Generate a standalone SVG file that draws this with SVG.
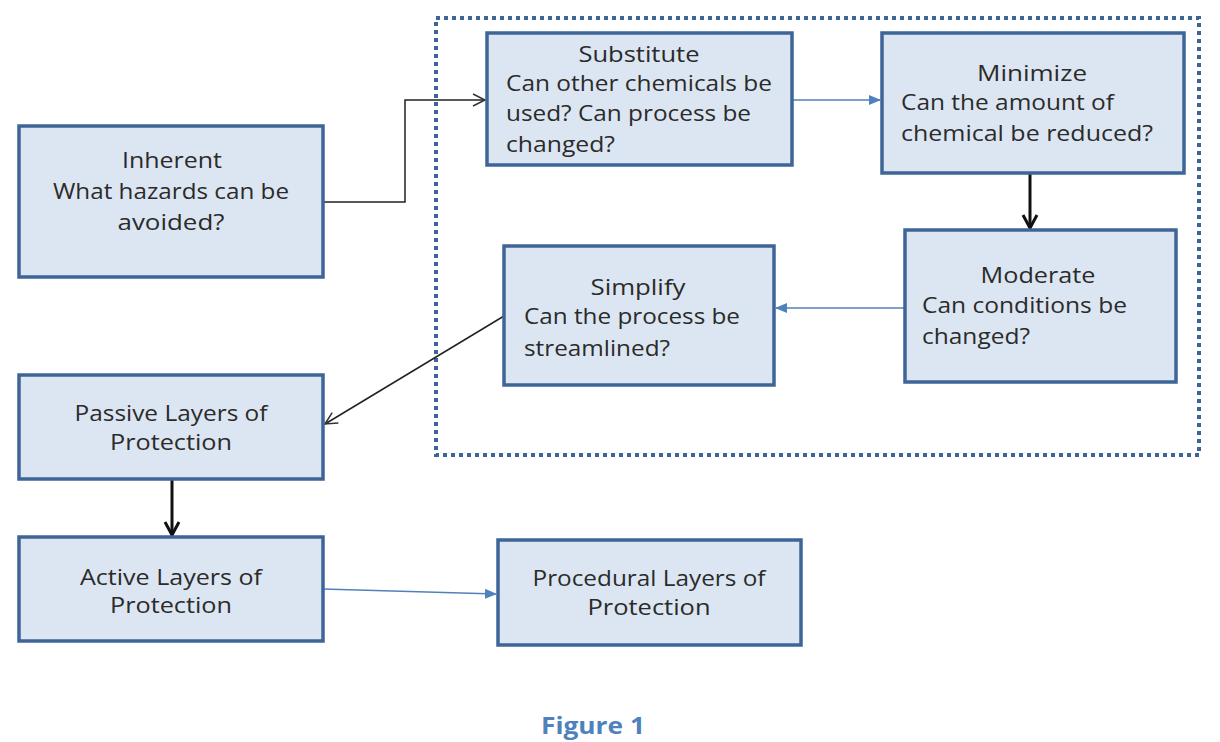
<svg xmlns="http://www.w3.org/2000/svg" width="1220" height="742" viewBox="0 0 1220 742">
<style>
.box{fill:#dce6f2;stroke:#3e6597;stroke-width:3.5}
text{font-family:"Open Sans","Liberation Sans",sans-serif;font-size:21px;fill:#2b2b2b}
.c{text-anchor:middle}
.blue{stroke:#4f81bd;stroke-width:1.5;fill:none}
.thin{stroke:#222;stroke-width:1.5;fill:none}
.thick{stroke:#111;stroke-width:3;fill:none}
</style>
<defs>
<marker id="ab" markerWidth="12" markerHeight="12" refX="11" refY="6" orient="auto" markerUnits="userSpaceOnUse"><path d="M0,1 L12,6 L0,11 z" fill="#4f81bd"/></marker>
<marker id="ao" markerWidth="16" markerHeight="16" refX="14" refY="8" orient="auto" markerUnits="userSpaceOnUse"><path d="M2,2 L14,8 L2,14" fill="none" stroke="#333" stroke-width="1.5"/></marker>
<marker id="at" markerWidth="18" markerHeight="18" refX="15" refY="9" orient="auto" markerUnits="userSpaceOnUse"><path d="M2,2 L15,9 L2,16" fill="none" stroke="#111" stroke-width="3"/></marker>
</defs>
<rect width="1220" height="742" fill="#fff"/>
<rect x="436" y="18" width="763" height="437" fill="none" stroke="#3e6597" stroke-width="4" stroke-dasharray="4 4"/>
<g id="connectors">
<path class="thin" d="M323,202 H405 V100 H485" marker-end="url(#ao)"/>
<path class="blue" d="M792,100 H880" marker-end="url(#ab)"/>
<path class="thick" d="M1030,173 V228" marker-end="url(#at)"/>
<path class="blue" d="M905,308 H776" marker-end="url(#ab)"/>
<path class="thin" d="M504,316 L325,424" marker-end="url(#ao)"/>
<path class="thick" d="M172,479 V535" marker-end="url(#at)"/>
<path class="blue" d="M323,589 L496,594" marker-end="url(#ab)"/>
</g>
<g id="inherent"><rect class="box" x="19" y="126" width="304" height="151"/>
<text class="c" x="172" y="168" textLength="100" lengthAdjust="spacingAndGlyphs">Inherent</text><text class="c" x="171" y="199" textLength="236" lengthAdjust="spacingAndGlyphs">What hazards can be</text><text class="c" x="171" y="230" textLength="107" lengthAdjust="spacingAndGlyphs">avoided?</text></g>
<g id="substitute"><rect class="box" x="487" y="33" width="305" height="132"/>
<text class="c" x="639" y="62" textLength="121" lengthAdjust="spacingAndGlyphs">Substitute</text><text x="506" y="91" textLength="266" lengthAdjust="spacingAndGlyphs">Can other chemicals be</text><text x="506" y="121" textLength="245" lengthAdjust="spacingAndGlyphs">used? Can process be</text><text x="506" y="152" textLength="109" lengthAdjust="spacingAndGlyphs">changed?</text></g>
<g id="minimize"><rect class="box" x="882" y="33" width="302" height="140"/>
<text class="c" x="1032" y="81" textLength="110" lengthAdjust="spacingAndGlyphs">Minimize</text><text x="901" y="110" textLength="213" lengthAdjust="spacingAndGlyphs">Can the amount of</text><text x="901" y="141" textLength="252" lengthAdjust="spacingAndGlyphs">chemical be reduced?</text></g>
<g id="moderate"><rect class="box" x="905" y="230" width="271" height="152"/>
<text class="c" x="1038" y="283" textLength="115" lengthAdjust="spacingAndGlyphs">Moderate</text><text x="922" y="313" textLength="205" lengthAdjust="spacingAndGlyphs">Can conditions be</text><text x="922" y="344" textLength="108" lengthAdjust="spacingAndGlyphs">changed?</text></g>
<g id="simplify"><rect class="box" x="504" y="246" width="270" height="139"/>
<text class="c" x="638" y="295" textLength="95" lengthAdjust="spacingAndGlyphs">Simplify</text><text x="524" y="324" textLength="216" lengthAdjust="spacingAndGlyphs">Can the process be</text><text x="524" y="356" textLength="146" lengthAdjust="spacingAndGlyphs">streamlined?</text></g>
<g id="passive"><rect class="box" x="19" y="375" width="304" height="104"/>
<text class="c" x="171" y="421" textLength="193" lengthAdjust="spacingAndGlyphs">Passive Layers of</text><text class="c" x="171" y="450" textLength="122" lengthAdjust="spacingAndGlyphs">Protection</text></g>
<g id="active"><rect class="box" x="19" y="537" width="304" height="104"/>
<text class="c" x="171" y="585" textLength="182" lengthAdjust="spacingAndGlyphs">Active Layers of</text><text class="c" x="171" y="613" textLength="122" lengthAdjust="spacingAndGlyphs">Protection</text></g>
<g id="procedural"><rect class="box" x="498" y="540" width="303" height="105"/>
<text class="c" x="649" y="586" textLength="233" lengthAdjust="spacingAndGlyphs">Procedural Layers of</text><text class="c" x="649" y="615" textLength="123" lengthAdjust="spacingAndGlyphs">Protection</text></g>
<text class="c" x="593" y="734" textLength="104" lengthAdjust="spacingAndGlyphs" style="font-size:24px;font-weight:bold;fill:#4f81bd">Figure 1</text>
</svg>
